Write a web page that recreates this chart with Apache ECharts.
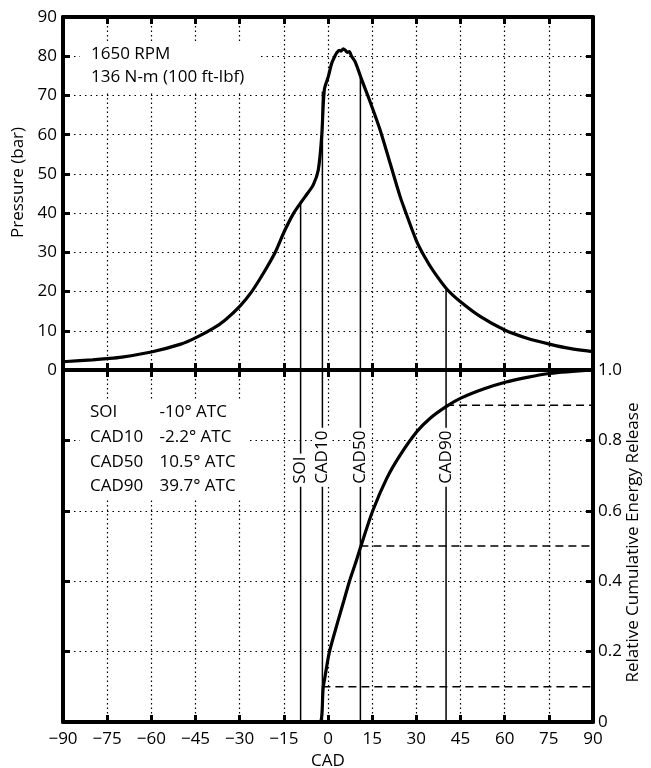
<!DOCTYPE html>
<html>
<head>
<meta charset="utf-8">
<script src="https://cdn.jsdelivr.net/npm/echarts@6/dist/echarts.min.js"></script>
<style>
html,body{margin:0;padding:0;background:#fff;}
#chart{width:651px;height:768px;}
</style>
</head>
<body>
<div id="chart"></div>
<script>
// ---- data ----
const xTicks = [-90, -75, -60, -45, -30, -15, 0, 15, 30, 45, 60, 75, 90];
const pressureTicks = [0, 10, 20, 30, 40, 50, 60, 70, 80, 90];
const energyTicks = [0, 0.2, 0.4, 0.6, 0.8, 1.0];

const pressureCad = [-90, -80, -75, -70, -60, -50, -45, -39, -35, -29.9, -25.9, -22, -18, -14.85, -11.8, -9.3, -7, -5, -3.3, -2.15, -1.25, 0.1, 1.26, 2.2, 3.0, 3.8, 4.4, 5.2, 5.9, 6.6, 7.2, 8.0, 9.2, 11.5, 14.3, 17.7, 21.1, 24.5, 26.2, 30, 33, 35.8, 40.4, 45, 51.8, 60, 67.6, 75.2, 82, 90];
const pressureBar = [2.1, 2.6, 2.9, 3.3, 4.6, 6.6, 8.2, 10.6, 12.7, 16.3, 20, 24.6, 29.9, 35.3, 39.8, 42.6, 45.0, 47.2, 51, 59.5, 71.4, 74.8, 78.2, 79.8, 80.9, 81.5, 81.3, 81.9, 81.5, 81.0, 81.2, 80.0, 78.6, 73.9, 68.4, 61.2, 52.7, 44.2, 40.6, 33.0, 28.6, 25.2, 20.6, 17.4, 13.6, 10.2, 8.1, 6.6, 5.5, 4.7];

const energyCad = [-90, -3.0, -1.6, -1.0, 0.45, 3.5, 5.4, 7.3, 9.3, 11.2, 15.2, 19.95, 24.5, 30.2, 34.7, 40.1, 45.1, 52.8, 60.2, 67.6, 75.2, 90];
const energyFrac = [0, 0, 0.1, 0.129, 0.198, 0.29, 0.345, 0.4, 0.45, 0.5, 0.6, 0.692, 0.758, 0.825, 0.863, 0.896, 0.92, 0.946, 0.965, 0.979, 0.99, 1.0];

const markerNames = ['SOI', 'CAD10', 'CAD50', 'CAD90'];
const markerCad = [-9.3, -1.9, 11.0, 40.1];
const markerPressure = [42.6, 71.0, 74.5, 20.6];
const markerFrac = [null, 0.1, 0.5, 0.9];
const markerLabelFrac = 0.668;

const infoTop = ['1650 RPM', '136 N-m (100 ft-lbf)'];
const infoNames = ['SOI', 'CAD10', 'CAD50', 'CAD90'];
const infoValues = ['-10\u00b0 ATC', '-2.2\u00b0 ATC', '10.5\u00b0 ATC', '39.7\u00b0 ATC'];

// ---- chart ----
const FONT = 'Open Sans';
const FS = 17;
const chart = echarts.init(document.getElementById('chart'), null, {renderer: 'canvas'});

const xMin = xTicks[0], xMax = xTicks[xTicks.length - 1], xStep = xTicks[1] - xTicks[0];
const pMin = pressureTicks[0], pMax = pressureTicks[pressureTicks.length - 1], pStep = pressureTicks[1] - pressureTicks[0];
const eMin = energyTicks[0], eMax = energyTicks[energyTicks.length - 1], eStep = energyTicks[1] - energyTicks[0];

const axisLine = {show: true, onZero: false, lineStyle: {color: '#000', width: 4}};
const tickIn = {show: true, inside: true, length: 7, lineStyle: {color: '#000', width: 3}};
const vGrid = {show: true, lineStyle: {color: '#000', width: 1.2, type: [1.5, 3]}};
const hGrid = {show: true, lineStyle: {color: '#000', width: 1.2, type: [1.5, 4]}};
const labelStyle = {color: '#000', fontFamily: FONT, fontSize: FS};

function xAxisDef(grid, pos, opts) {
  return Object.assign({
    gridIndex: grid, type: 'value', position: pos, min: xMin, max: xMax, interval: xStep,
    axisLine: axisLine, axisTick: tickIn, axisLabel: {show: false}, splitLine: {show: false}
  }, opts || {});
}
function yAxisDef(grid, pos, mn, mx, st, opts) {
  return Object.assign({
    gridIndex: grid, type: 'value', position: pos, min: mn, max: mx, interval: st,
    axisLine: axisLine, axisTick: tickIn, axisLabel: {show: false}, splitLine: {show: false}
  }, opts || {});
}

const series = [];
// pressure trace
series.push({
  type: 'line', xAxisIndex: 0, yAxisIndex: 0, showSymbol: false, smooth: 0.3,
  data: pressureCad.map((c, i) => [c, pressureBar[i]]),
  lineStyle: {color: '#000', width: 3.2}, z: 5
});
// energy trace
series.push({
  type: 'line', xAxisIndex: 2, yAxisIndex: 2, showSymbol: false, smooth: 0.3,
  data: energyCad.map((c, i) => [c, energyFrac[i]]),
  lineStyle: {color: '#000', width: 3.2}, z: 5
});
// marker vertical lines
markerCad.forEach((c, i) => {
  series.push({
    type: 'line', xAxisIndex: 0, yAxisIndex: 0, showSymbol: false, silent: true,
    data: [[c, markerPressure[i]], [c, pMin]],
    lineStyle: {color: '#000', width: 1.5}, z: 3
  });
  series.push({
    type: 'line', xAxisIndex: 2, yAxisIndex: 2, showSymbol: false, silent: true,
    data: [[c, eMax], [c, eMin]],
    lineStyle: {color: '#000', width: 1.5}, z: 3
  });
  if (markerFrac[i] !== null) {
    series.push({
      type: 'line', xAxisIndex: 2, yAxisIndex: 2, showSymbol: false, silent: true,
      data: [[c, markerFrac[i]], [xMax, markerFrac[i]]],
      lineStyle: {color: '#000', width: 1.5, type: [8, 5]}, z: 3
    });
  }
});
// marker labels (rotated, on white)
series.push({
  type: 'custom', xAxisIndex: 2, yAxisIndex: 2, z: 6, silent: true,
  data: markerCad.map(c => [c, markerLabelFrac]),
  renderItem: function (params, api) {
    const p = api.coord([api.value(0), api.value(1)]);
    return {
      type: 'text', x: p[0], y: p[1], rotation: Math.PI / 2,
      style: {
        text: markerNames[params.dataIndex], fill: '#000',
        fontFamily: FONT, fontSize: FS, align: 'left', verticalAlign: 'middle',
        backgroundColor: '#fff', padding: [0, 3, 0, 3]
      }
    };
  }
});

const graphics = [
  {type: 'rect', shape: {x: 80, y: 43, width: 180, height: 49}, style: {fill: '#fff'}, z: 4},
  {type: 'rect', shape: {x: 80, y: 401, width: 166, height: 97}, style: {fill: '#fff'}, z: 4}
];
const topY = [54.2, 77.5];
infoTop.forEach((t, i) => graphics.push({
  type: 'text', x: 91, y: topY[i], z: 5,
  style: {text: t, fill: '#000', fontFamily: FONT, fontSize: FS, align: 'left', verticalAlign: 'middle'}
}));
const infoY = [412, 437, 462, 486.5];
infoNames.forEach((t, i) => {
  graphics.push({
    type: 'text', x: 90, y: infoY[i], z: 5,
    style: {text: t, fill: '#000', fontFamily: FONT, fontSize: FS, align: 'left', verticalAlign: 'middle'}
  });
  graphics.push({
    type: 'text', x: 159.5, y: infoY[i], z: 5,
    style: {text: infoValues[i], fill: '#000', fontFamily: FONT, fontSize: FS, align: 'left', verticalAlign: 'middle'}
  });
});

const option = {
  animation: false,
  backgroundColor: '#fff',
  textStyle: {fontFamily: FONT},
  grid: [
    {left: 63, top: 17, width: 530, height: 353, containLabel: false, outerBoundsMode: 'none'},
    {left: 63, top: 370, width: 530, height: 352, containLabel: false, outerBoundsMode: 'none'}
  ],
  xAxis: [
    xAxisDef(0, 'bottom', {splitLine: vGrid}),
    xAxisDef(0, 'top'),
    xAxisDef(1, 'bottom', {
      splitLine: vGrid,
      axisLabel: Object.assign({show: true, margin: 9, formatter: v => v < 0 ? '\u2212' + Math.abs(v) : String(v)}, labelStyle),
      name: 'CAD', nameLocation: 'middle', nameGap: 31, nameTextStyle: labelStyle
    }),
    xAxisDef(1, 'top')
  ],
  yAxis: [
    yAxisDef(0, 'left', pMin, pMax, pStep, {
      splitLine: hGrid,
      axisLabel: Object.assign({show: true, margin: 6}, labelStyle),
      name: 'Pressure (bar)', nameLocation: 'middle', nameGap: 36,
      nameTextStyle: Object.assign({padding: [0, 0, 0, 22]}, labelStyle)
    }),
    yAxisDef(0, 'right', pMin, pMax, pStep),
    yAxisDef(1, 'right', eMin, eMax, eStep, {
      splitLine: hGrid,
      axisLabel: Object.assign({show: true, margin: 5, formatter: v => v === 0 ? '0' : v.toFixed(1)}, labelStyle),
      name: 'Relative Cumulative Energy Release', nameLocation: 'middle', nameGap: 32, nameMoveOverlap: false,
      nameTextStyle: Object.assign({padding: [0, 0, 0, 7]}, labelStyle)
    }),
    yAxisDef(1, 'left', eMin, eMax, eStep)
  ],
  series: series,
  graphic: graphics
};
chart.setOption(option);
</script>
</body>
</html>
